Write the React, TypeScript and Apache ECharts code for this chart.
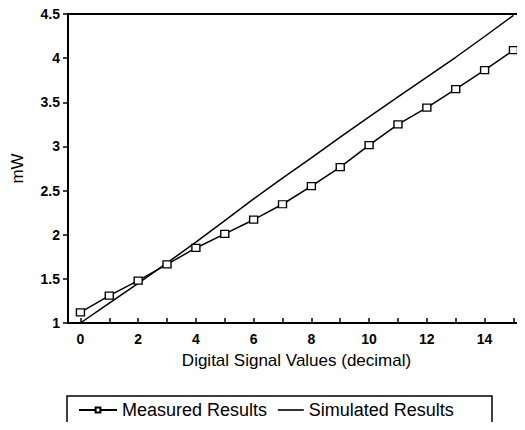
import React, { useEffect, useRef } from "react";
import * as echarts from "echarts";

const xValues = [0, 1, 2, 3, 4, 5, 6, 7, 8, 9, 10, 11, 12, 13, 14, 15];
const measured = [1.12, 1.31, 1.48, 1.665, 1.85, 2.01, 2.17, 2.345, 2.55, 2.765, 3.015, 3.25, 3.44, 3.65, 3.865, 4.09];
const simulated = [1.0, 1.225, 1.45, 1.68, 1.915, 2.16, 2.405, 2.64, 2.87, 3.105, 3.335, 3.56, 3.785, 4.01, 4.245, 4.485];
const xTickValues = [0, 1, 2, 3, 4, 5, 6, 7, 8, 9, 10, 11, 12, 13, 14, 15];
const xLabelValues = [0, 2, 4, 6, 8, 10, 12, 14];
const seriesNames = ["Measured Results", "Simulated Results"];
const xTitle = "Digital Signal Values (decimal)";
const yTitle = "mW";

const FONT = "'Liberation Sans', Arial, Helvetica, sans-serif";

export default function App() {
  const ref = useRef<HTMLDivElement>(null);
  useEffect(() => {
    if (!ref.current) return;
    const chart = echarts.init(ref.current, null, { renderer: "svg" });
    const axisLineStyle = { color: "#000", width: 2 };
    chart.setOption({
      animation: false,
      backgroundColor: "#fff",
      textStyle: { fontFamily: FONT, color: "#000" },
      grid: { left: 68, right: 0, top: 14, bottom: 107, containLabel: false },
      xAxis: [
        {
          type: "value",
          min: -0.43,
          max: 15.4,
          position: "bottom",
          name: xTitle,
          nameLocation: "middle",
          nameGap: 29,
          nameTextStyle: { fontSize: 17, color: "#000", fontFamily: FONT },
          axisLine: { show: true, onZero: false, lineStyle: axisLineStyle },
          axisTick: { show: true, inside: true, length: 5, customValues: xTickValues, lineStyle: { color: "#000", width: 1.5 } },
          axisLabel: { customValues: xLabelValues, fontSize: 14, fontWeight: "bold", color: "#000", margin: 9 },
          splitLine: { show: false },
        },
        {
          type: "value",
          min: -0.43,
          max: 15.4,
          position: "top",
          axisLine: { show: true, onZero: false, lineStyle: axisLineStyle },
          axisTick: { show: false },
          axisLabel: { show: false },
          splitLine: { show: false },
        },
      ],
      yAxis: {
        type: "value",
        min: 1,
        max: 4.5,
        interval: 0.5,
        name: yTitle,
        nameLocation: "middle",
        nameGap: 42,
        nameRotate: 90,
        nameTextStyle: { fontSize: 17, color: "#000", fontFamily: FONT },
        axisLine: { show: true, onZero: false, lineStyle: axisLineStyle },
        axisTick: { show: true, inside: false, length: 5, lineStyle: { color: "#000", width: 1.5 } },
        axisLabel: { fontSize: 14, fontWeight: "bold", color: "#000", margin: 8 },
        splitLine: { show: false },
      },
      legend: [
        {
          data: [seriesNames[0]],
          left: 78,
          top: 401,
          padding: 0,
          itemWidth: 38,
          itemHeight: 6,
          textStyle: { fontSize: 18, color: "#000", fontFamily: FONT },
        },
        {
          data: [seriesNames[1]],
          left: 277,
          top: 401,
          padding: 0,
          itemWidth: 26,
          itemHeight: 9,
          itemStyle: { opacity: 0 },
          lineStyle: { color: "#000", width: 1.6 },
          textStyle: { fontSize: 18, color: "#000", fontFamily: FONT },
        },
      ],
      graphic: [
        {
          type: "rect",
          shape: { x: 67, y: 396, width: 425, height: 60 },
          style: { fill: "none", stroke: "#000", lineWidth: 1.5 },
          silent: true,
        },
      ],
      series: [
        {
          name: seriesNames[0],
          type: "line",
          data: xValues.map((x, i) => [x, measured[i]]),
          symbol: "rect",
          symbolSize: [8, 7],
          showSymbol: true,
          lineStyle: { color: "#000", width: 1.5 },
          itemStyle: { color: "#fff", borderColor: "#000", borderWidth: 1.3 },
          z: 3,
        },
        {
          name: seriesNames[1],
          type: "line",
          data: xValues.map((x, i) => [x, simulated[i]]),
          symbol: "none",
          smooth: false,
          lineStyle: { color: "#000", width: 1.5 },
          itemStyle: { color: "#000" },
          z: 2,
        },
      ],
    });
    return () => chart.dispose();
  }, []);
  return <div ref={ref} style={{ width: 525, height: 430, margin: -8 }} />;
}
